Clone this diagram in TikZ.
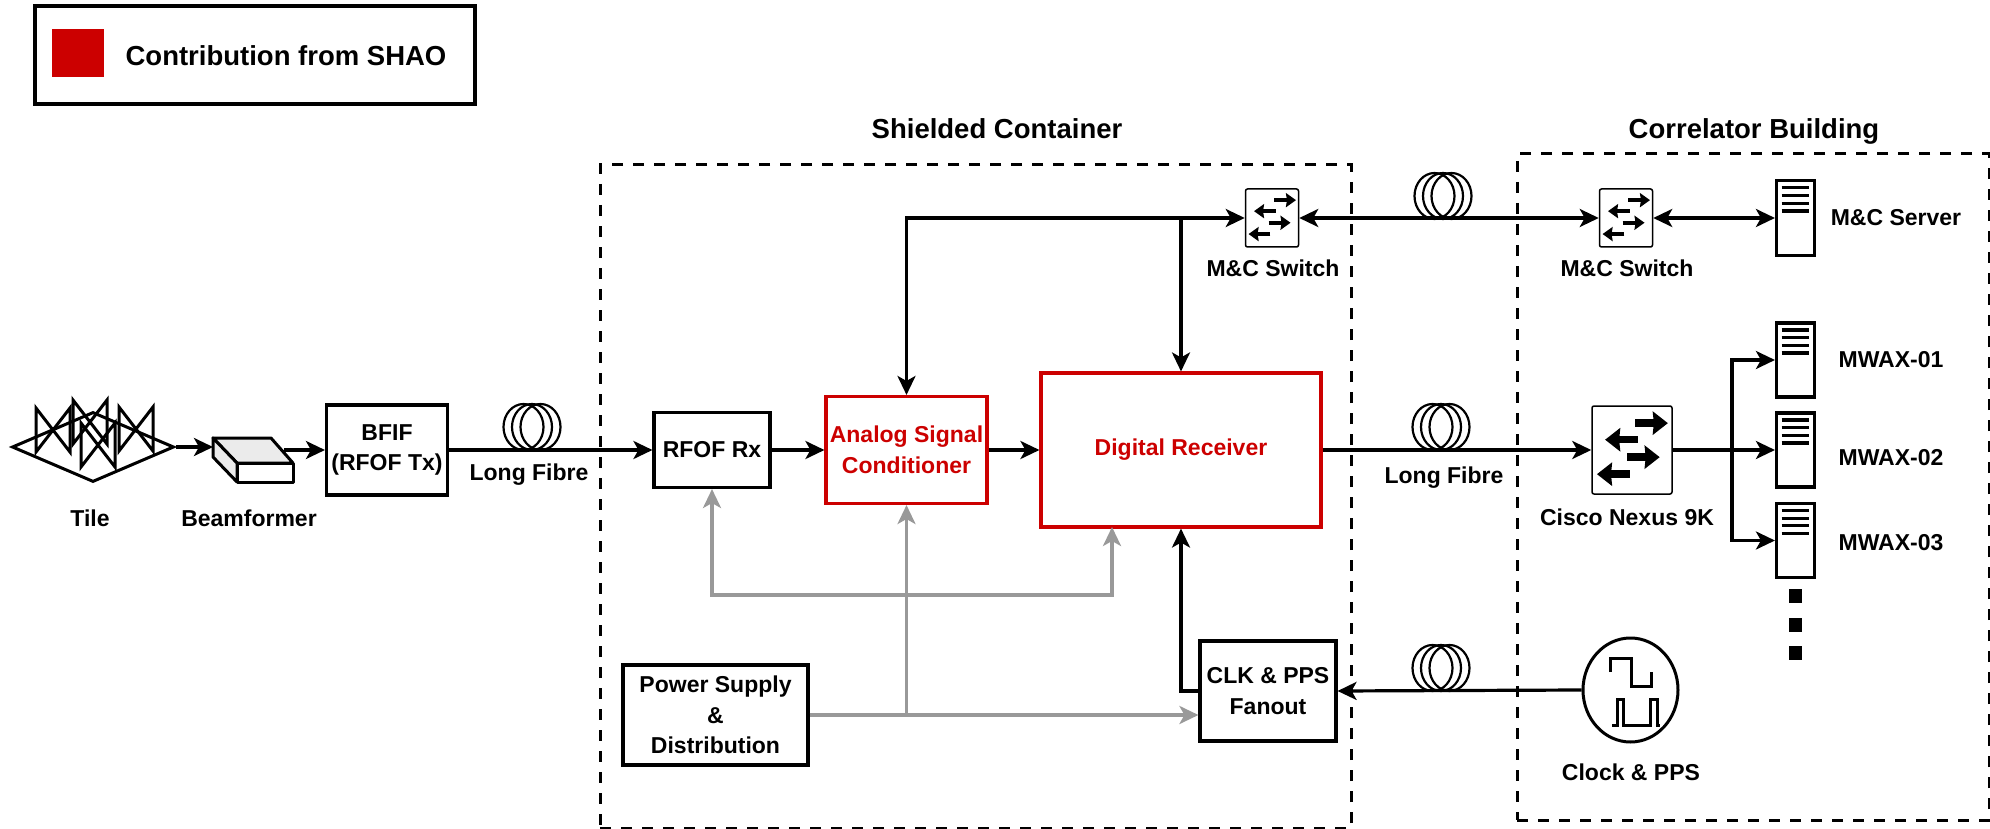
\documentclass[tikz,border=0pt]{standalone}
\usepackage{fontspec}
\setmainfont{Liberation Sans}
\usepackage[dvipsnames]{xcolor}
\usetikzlibrary{arrows.meta,shapes.geometric,calc}
\definecolor{shaored}{HTML}{CC0000}
\definecolor{powergray}{HTML}{999999}
\tikzset{
  boxed/.style={draw,line width=3.1pt,inner sep=0pt,align=center,font=\fontsize{23}{30.5}\selectfont\bfseries},
  redboxed/.style={boxed,draw=shaored,text=shaored},
  lbl/.style={inner sep=0pt,align=center,font=\fontsize{23}{30.5}\selectfont\bfseries},
  toplbl/.style={inner sep=0pt,font=\fontsize{27.5}{33}\selectfont\bfseries},
  dashbox/.style={draw,line width=3pt,dash pattern=on 11pt off 10pt,inner sep=0pt},
  switchbox/.style={draw,line width=1.5pt,rounded corners=2pt,inner sep=0pt},
  serverbox/.style={draw,line width=3.1pt,fill=white,inner sep=0pt,minimum width=38pt},
  coilring/.style={draw,ellipse,line width=2.2pt,inner sep=0pt,minimum width=40pt,minimum height=46pt},
  sig/.style={line width=3.2pt,-{Stealth[length=19pt,width=18pt,inset=5pt]}},
  both/.style={line width=3.2pt,{Stealth[length=19pt,width=18pt,inset=5pt]}-{Stealth[length=19pt,width=18pt,inset=5pt]}},
  gry/.style={sig,draw=powergray},
  swsmall/.style={line width=4.5pt,-{Stealth[length=10pt,width=14pt,inset=1pt]}},
  swbig/.style={line width=7.5pt,-{Stealth[length=15pt,width=23pt,inset=1pt]}},
}
% switch arrows, inside a node
\newcommand{\switcharrows}[2]{%
\foreach \xa/\xb/\yy in {0.54/0.94/0.20,0.57/0.17/0.385,0.44/0.84/0.58,0.47/0.07/0.77}{
\draw[#2] ($(#1.north west)!\yy!(#1.south west)!\xa!($(#1.north east)!\yy!(#1.south east)$)$) -- ($(#1.north west)!\yy!(#1.south west)!\xb!($(#1.north east)!\yy!(#1.south east)$)$);
}}
% server stripes, inside a node
\newcommand{\serverlines}[1]{%
\foreach \yy in {0.11,0.21,0.31,0.41}{
\draw[line width=3.2pt] ($(#1.north west)!\yy!(#1.south west)!0.16!($(#1.north east)!\yy!(#1.south east)$)$) -- ($(#1.north west)!\yy!(#1.south west)!0.84!($(#1.north east)!\yy!(#1.south east)$)$);
}}
% fibre coil sitting on a line
\newcommand{\fibrecoil}[3]{%
\node[coilring] (#1a) at (#2-8.5,#3) {};
\node[coilring] (#1b) at (#2,#3) {};
\node[coilring] (#1c) at (#2+8.5,#3) {};
}
% one antenna of the tile
\newcommand{\tileant}[2]{%
\draw[line width=3pt] (#1,#2)--(#1+34,#2+44)--(#1+34,#2)--(#1,#2+44)--cycle;
}
\begin{document}
\begin{tikzpicture}[x=1pt,y=-1pt]
\useasboundingbox (0,0) rectangle (1990,829);
% legend
\node[boxed,minimum width=440pt,minimum height=98pt] (legend) at (255,55) {};
\node[fill=shaored,minimum width=52pt,minimum height=48pt,inner sep=0pt] (legendsq) at (78,53) {};
\node[toplbl] (legendtxt) at (286,56) {Contribution from SHAO};
%
% the two enclosures
\node[dashbox,minimum width=751pt,minimum height=663pt] (shielded) at (975.5,496.5) {};
\node[dashbox,minimum width=472pt,minimum height=666pt] (corr) at (1753,487) {};
\node[toplbl] (shieldedlbl) at (997,129) {Shielded Container};
\node[toplbl] (corrlbl) at (1754,131) {Correlator Building};
%
% tile
\node[draw,diamond,line width=3pt,minimum width=162pt,minimum height=70pt,inner sep=0pt] (tile) at (93,447) {};
\tileant{36}{408}
\tileant{73}{400}
\tileant{119}{407}
\tileant{81}{423}
\node[lbl] (tilelbl) at (90,518) {Tile};
%
% beamformer
\draw[line width=3pt,line join=round,fill=black!8] (213,438)--(271,438)--(293,463)--(237,463)--cycle;
\draw[line width=3pt,line join=round,fill=black!8] (213,438)--(237,463)--(237,482)--(213,457)--cycle;
\draw[line width=3pt,line join=round,fill=white] (237,463) rectangle (293,482);
\coordinate (beamin) at (213,447);
\coordinate (beamout) at (284,450);
\node[lbl] (beamlbl) at (249,518) {Beamformer};
%
% chain along the long fibre
\node[boxed,minimum width=121pt,minimum height=90pt] (bfif) at (387,450) {BFIF\\(RFOF Tx)};
\node[boxed,minimum width=116pt,minimum height=75pt] (rfof) at (712,450) {RFOF Rx};
\node[redboxed,minimum width=161pt,minimum height=107pt] (analog) at (906.5,450) {Analog Signal\\Conditioner};
\node[redboxed,minimum width=280pt,minimum height=154pt] (digital) at (1181,450) {Digital Receiver};
\node[switchbox,minimum width=80pt,minimum height=88pt] (nexus) at (1632,450) {};
\node[lbl] (fibrelblA) at (529,475) {Long Fibre};
\node[lbl] (fibrelblB) at (1444,478) {Long Fibre};
\node[lbl] (nexuslbl) at (1627,517) {Cisco Nexus 9K};
%
% lower boxes
\node[boxed,minimum width=185pt,minimum height=100pt] (power) at (715.5,715) {Power Supply\\\&\\Distribution};
\node[boxed,minimum width=136pt,minimum height=100pt] (fanout) at (1268,691) {CLK \& PPS\\Fanout};
\node[draw,ellipse,line width=3pt,minimum width=95pt,minimum height=104pt,inner sep=0pt] (clock) at (1630.5,690) {};
\node[lbl] (clocklbl) at (1631,772) {Clock \& PPS};
\draw[line width=3pt] (1610,672)--(1610,658)--(1631,658)--(1631,686)--(1651,686)--(1651,672);
\draw[line width=3pt] (1612,725)--(1617,725)--(1617,699)--(1623,699)--(1623,725)--(1650,725)--(1650,699)--(1657,699)--(1657,725)--(1660,725);
%
% monitor and control
\node[switchbox,minimum width=53pt,minimum height=58pt] (mcA) at (1272,218) {};
\node[switchbox,minimum width=53pt,minimum height=58pt] (mcB) at (1626,218) {};
\node[lbl] (mcAlbl) at (1273,268) {M\&C Switch};
\node[lbl] (mcBlbl) at (1627,268) {M\&C Switch};
%
% servers
\node[serverbox,minimum height=75pt] (mcserver) at (1795.5,218) {};
\node[serverbox,minimum height=74pt] (mwaxA) at (1795.5,360) {};
\node[serverbox,minimum height=74pt] (mwaxB) at (1795.5,450) {};
\node[serverbox,minimum height=74pt] (mwaxC) at (1795.5,540.5) {};
\serverlines{mcserver}
\serverlines{mwaxA}
\serverlines{mwaxB}
\serverlines{mwaxC}
\node[lbl] (mcserverlbl) at (1896,218) {M\&C Server};
\node[lbl] (mwaxAlbl) at (1891,360) {MWAX-01};
\node[lbl] (mwaxBlbl) at (1891,458) {MWAX-02};
\node[lbl] (mwaxClbl) at (1891,543) {MWAX-03};
\node[fill=black,minimum width=13pt,minimum height=14pt,inner sep=0pt] (dotA) at (1795,596) {};
\node[fill=black,minimum width=13pt,minimum height=14pt,inner sep=0pt] (dotB) at (1795,625) {};
\node[fill=black,minimum width=13pt,minimum height=14pt,inner sep=0pt] (dotC) at (1795,653) {};
%
% coils
\fibrecoil{coilA}{532}{427}
\fibrecoil{coilB}{1443}{196}
\fibrecoil{coilC}{1441}{427}
\fibrecoil{coilD}{1441}{668}
%
% signal chain
\draw[sig] (tile.east) -- (beamin);
\draw[sig] (beamout) -- (bfif.west);
\draw[sig] (bfif.east) -- (rfof.west);
\draw[sig] (rfof.east) -- (analog.west);
\draw[sig] (analog.east) -- (digital.west);
\draw[sig] (digital.east) -- (nexus.west);
\draw[sig] (nexus.east) -- (mwaxB.west);
\coordinate (branch) at (1732,450);
\draw[sig] (branch) |- (mwaxA.west);
\draw[sig] (branch) |- (mwaxC.west);
%
% control lines
\coordinate (ctrl) at (1181,218);
\draw[both] (analog.north) |- (mcA.west);
\draw[sig] (ctrl) -- (digital.north);
\draw[both] (mcA.east) -- (mcB.west);
\draw[both] (mcB.east) -- (mcserver.west);
%
% clock
\draw[sig] (clock.west) -- (fanout.east);
\draw[sig] (fanout.west) -- (digital.south |- fanout.west) -- (digital.south);
%
% power
\coordinate (psjoin) at (analog.south |- power.east);
\coordinate (psbarA) at (906.5,595);
\coordinate (psbarB) at (1112,595);
\coordinate (psend) at (1112,527);
\draw[gry] (power.east) -- (power.east -| fanout.west);
\draw[gry] (psjoin) -- (analog.south);
\draw[gry] (psbarA) -| (rfof.south);
\draw[gry] (psbarA) -- (psbarB) -- (psend);
\switcharrows{mcA}{swsmall}
\switcharrows{mcB}{swsmall}
\switcharrows{nexus}{swbig}
\end{tikzpicture}
\end{document}
